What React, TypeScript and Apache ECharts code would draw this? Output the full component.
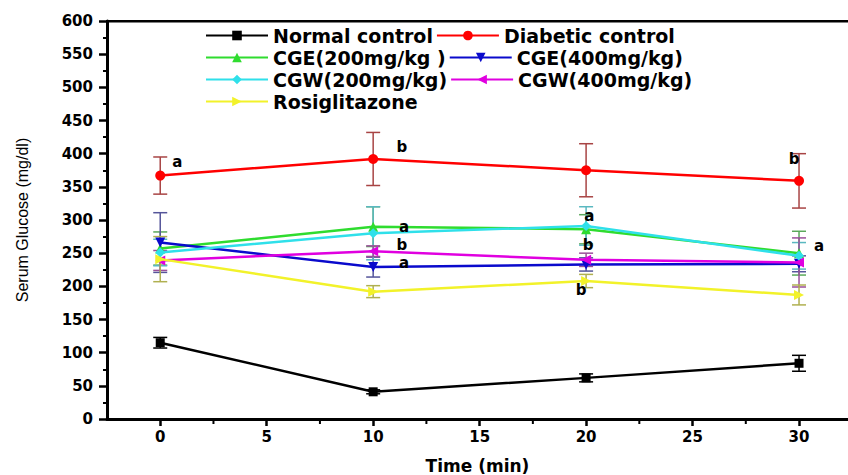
import React, { useEffect, useRef } from "react";
import * as echarts from "echarts";

const timePoints = [0, 10, 20, 30];
const xMajorTicks = [0, 5, 10, 15, 20, 25, 30];
const xMinorTicks = [2.5, 7.5, 12.5, 17.5, 22.5, 27.5];
const xMin = -2.5;
const xMax = 32.3;
const yMax = 600;

const seriesNames = [
  "Normal control",
  "Diabetic control",
  "CGE(200mg/kg )",
  "CGE(400mg/kg)",
  "CGW(200mg/kg)",
  "CGW(400mg/kg)",
  "Rosiglitazone",
];

const normalControl = [115, 41, 62, 84];
const normalControlErr = [8, 3, 6, 12];
const diabeticControl = [367, 392, 375, 359];
const diabeticControlErr = [28, 40, 40, 41];
const cge200 = [257, 290, 286, 250];
const cge200Err = [25, 30, 22, 33];
const cge400 = [266, 229, 233, 234];
const cge400Err = [45, 15, 10, 12];
const cgw200 = [251, 280, 291, 246];
const cgw200Err = [20, 40, 29, 20];
const cgw400 = [239, 253, 240, 236];
const cgw400Err = [15, 8, 10, 37];
const rosiglitazone = [241, 192, 208, 187];
const rosiglitazoneErr = [34, 9, 10, 15];

const annotationText = ["a", "b", "a", "b", "a", "a", "b", "b", "b", "a"];
const annotationX = [0.8, 11.35, 11.45, 11.35, 11.45, 20.15, 20.1, 19.77, 29.77, 30.94];
const annotationY = [387, 410, 290, 263, 235, 306, 262, 194, 392, 261];

const allValues = [normalControl, diabeticControl, cge200, cge400, cgw200, cgw400, rosiglitazone];
const allErrors = [normalControlErr, diabeticControlErr, cge200Err, cge400Err, cgw200Err, cgw400Err, rosiglitazoneErr];

const lineColors = ["#000000", "#ff0000", "#2fdc2f", "#0a0acc", "#2fe0ea", "#e000e0", "#f2f22a"];
const errColors = ["#000000", "#a84444", "#5aa85a", "#55559a", "#5ab8c0", "#9a4f9a", "#b0b050"];
const symbols = ["rect", "circle", "triangle", "triangle", "diamond", "triangle", "triangle"];
const symbolRotates = [0, 0, 0, 180, 0, 90, -90];

const boldFont = "DejaVu Sans";

export default function App() {
  const ref = useRef<HTMLDivElement>(null);

  useEffect(() => {
    if (!ref.current) return;
    const chart = echarts.init(ref.current, undefined, { renderer: "svg" });

    const errorSeries = allValues.map((vals, i) => ({
      type: "custom",
      name: "err-" + seriesNames[i],
      xAxisIndex: 0,
      yAxisIndex: 0,
      z: 1,
      encode: { x: 0, y: [1, 2] },
      data: timePoints.map((t, j) => [t, vals[j] - allErrors[i][j], vals[j] + allErrors[i][j]]),
      renderItem: (params: any, api: any) => {
        const x = api.value(0);
        const lo = api.value(1);
        const hi = api.value(2);
        const pTop = api.coord([x, hi]);
        const pBot = api.coord([x, lo]);
        const hw = 7;
        const style = { stroke: errColors[i], lineWidth: 1.5 };
        return {
          type: "group",
          children: [
            { type: "line", shape: { x1: pTop[0], y1: pTop[1], x2: pBot[0], y2: pBot[1] }, style },
            { type: "line", shape: { x1: pTop[0] - hw, y1: pTop[1], x2: pTop[0] + hw, y2: pTop[1] }, style },
            { type: "line", shape: { x1: pBot[0] - hw, y1: pBot[1], x2: pBot[0] + hw, y2: pBot[1] }, style },
          ],
        };
      },
    }));

    const lineSeries = allValues.map((vals, i) => ({
      type: "line",
      name: seriesNames[i],
      xAxisIndex: 0,
      yAxisIndex: 0,
      z: 2 + i,
      data: timePoints.map((t, j) => [t, vals[j]]),
      symbol: symbols[i],
      symbolRotate: symbolRotates[i],
      symbolSize: i === 0 ? 9 : 10,
      showAllSymbol: true,
      lineStyle: { color: lineColors[i], width: 2.5 },
      itemStyle: { color: lineColors[i] },
    }));

    const minorTickSeries = {
      type: "custom",
      name: "minor-ticks",
      xAxisIndex: 0,
      yAxisIndex: 0,
      z: 30,
      clip: false,
      silent: true,
      data: xMinorTicks.map((t) => [t, 0]),
      renderItem: (params: any, api: any) => {
        const p = api.coord([api.value(0), 0]);
        return {
          type: "line",
          shape: { x1: p[0], y1: p[1], x2: p[0], y2: p[1] + 5 },
          style: { stroke: "#000", lineWidth: 2 },
        };
      },
    };

    const annotationSeries = {
      type: "custom",
      name: "annotations",
      xAxisIndex: 0,
      yAxisIndex: 0,
      z: 20,
      data: annotationText.map((t, i) => [annotationX[i], annotationY[i], t]),
      renderItem: (params: any, api: any) => {
        const p = api.coord([api.value(0), api.value(1)]);
        return {
          type: "text",
          x: p[0],
          y: p[1],
          style: {
            text: annotationText[params.dataIndex],
            fill: "#000",
            fontSize: 15,
            fontWeight: "bold",
            fontFamily: boldFont,
            align: "center",
            verticalAlign: "middle",
          },
        };
      },
    };

    chart.setOption({
      animation: false,
      backgroundColor: "#ffffff",
      grid: {
        left: 107,
        top: 21,
        bottom: 56,
        right: 0,
        show: false,
        containLabel: false,
        outerBoundsMode: "none",
      },
      legend: {
        data: seriesNames,
        left: 200,
        top: 21,
        width: 530,
        orient: "horizontal",
        itemWidth: 62,
        itemHeight: 12,
        itemGap: 3,
        textStyle: {
          fontFamily: boldFont,
          fontWeight: "bold",
          fontSize: 19,
          color: "#000",
        },
      },
      xAxis: {
        type: "value",
        min: xMin,
        max: xMax,
        position: "bottom",
        axisLine: { show: true, onZero: false, lineStyle: { color: "#000", width: 3 } },
        axisTick: { show: true, customValues: xMajorTicks, length: 7, lineStyle: { color: "#000", width: 2.5 } },
        axisLabel: {
          customValues: xMajorTicks,
          fontFamily: boldFont,
          fontWeight: "bold",
          fontSize: 15,
          color: "#000",
          margin: 10,
        },
        splitLine: { show: false },
        name: "Time (min)",
        nameLocation: "middle",
        nameGap: 38,
        nameTextStyle: { fontFamily: boldFont, fontWeight: "bold", fontSize: 17, color: "#000" },
      },
      yAxis: {
        type: "value",
        min: 0,
        max: yMax,
        interval: 50,
        axisLine: { show: true, onZero: false, lineStyle: { color: "#000", width: 3 } },
        axisTick: { show: true, length: 8, lineStyle: { color: "#000", width: 2.5 } },
        minorTick: { show: true, splitNumber: 2, length: 4, lineStyle: { color: "#000", width: 2 } },
        axisLabel: {
          fontFamily: boldFont,
          fontWeight: "bold",
          fontSize: 15,
          color: "#000",
          margin: 14,
        },
        splitLine: { show: false },
        name: "Serum Glucose (mg/dl)",
        nameLocation: "middle",
        nameGap: 77,
        nameTextStyle: { fontFamily: "Liberation Sans", fontSize: 16, color: "#000" },
      },
      series: [...errorSeries, ...lineSeries, minorTickSeries, annotationSeries],
    });

    // Top frame bar, placed through the chart's own scales
    const pLeft = chart.convertToPixel({ gridIndex: 0 }, [xMin, yMax]) as number[];
    const pRight = chart.convertToPixel({ gridIndex: 0 }, [xMax, yMax]) as number[];
    if (pLeft && pRight) {
      chart.setOption({
        graphic: [
          {
            type: "rect",
            z: 100,
            shape: { x: pLeft[0] - 1, y: pLeft[1] - 1, width: pRight[0] - pLeft[0] + 1, height: 2.5 },
            style: { fill: "#000" },
          },
        ],
      });
    }

    return () => chart.dispose();
  }, []);

  return (
    <div
      ref={ref}
      style={{ position: "fixed", left: 0, top: 0, width: 848, height: 475, background: "#fff" }}
    />
  );
}
